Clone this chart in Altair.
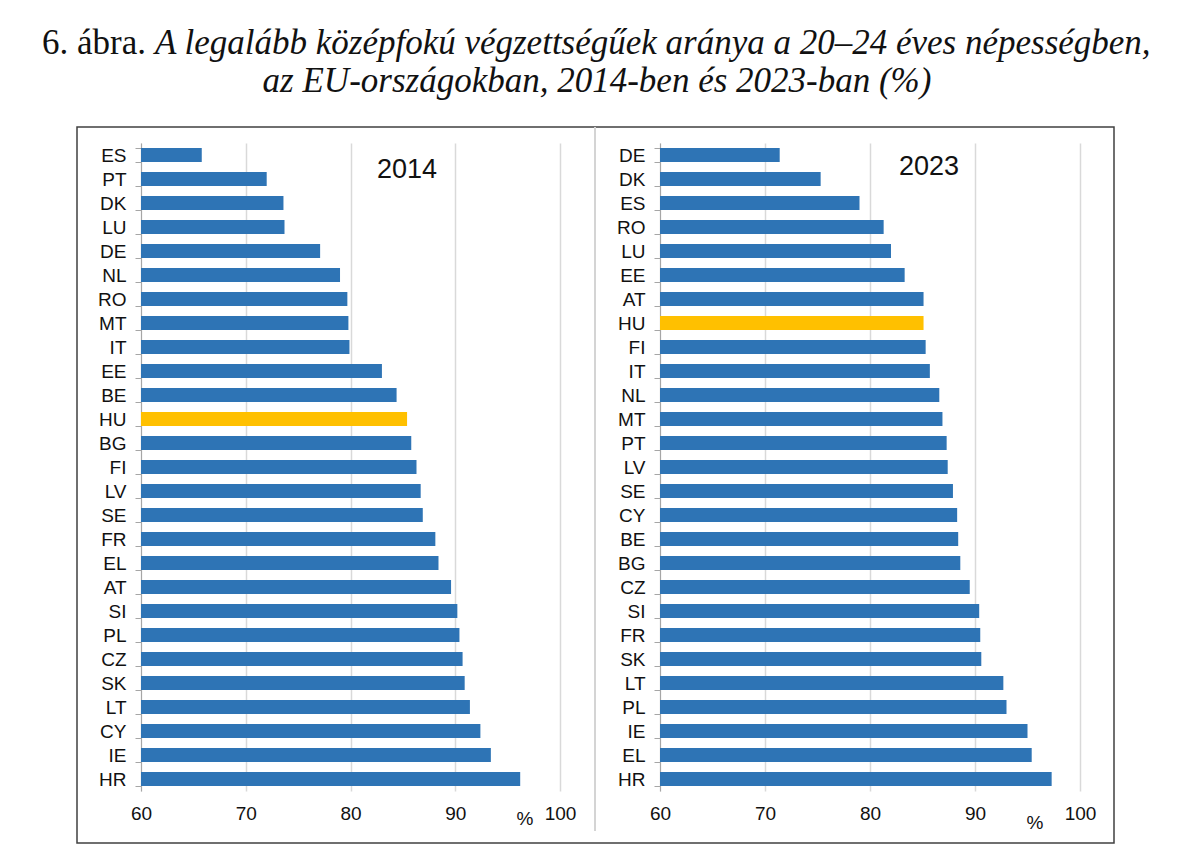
import altair as alt
import pandas as pd

countries_2014 = ["ES", "PT", "DK", "LU", "DE", "NL", "RO", "MT", "IT", "EE", "BE", "HU", "BG", "FI",
                  "LV", "SE", "FR", "EL", "AT", "SI", "PL", "CZ", "SK", "LT", "CY", "IE", "HR"]
values_2014 = [65.8, 72.0, 73.6, 73.7, 77.1, 79.0, 79.7, 79.8, 79.9, 83.0, 84.4, 85.4, 85.8, 86.3,
               86.7, 86.9, 88.1, 88.4, 89.6, 90.2, 90.4, 90.7, 90.9, 91.4, 92.4, 93.4, 96.2]

countries_2023 = ["DE", "DK", "ES", "RO", "LU", "EE", "AT", "HU", "FI", "IT", "NL", "MT", "PT", "LV",
                  "SE", "CY", "BE", "BG", "CZ", "SI", "FR", "SK", "LT", "PL", "IE", "EL", "HR"]
values_2023 = [71.4, 75.3, 79.0, 81.3, 82.0, 83.3, 85.1, 85.1, 85.3, 85.7, 86.6, 86.9, 87.3, 87.4,
               87.9, 88.3, 88.4, 88.6, 89.5, 90.4, 90.5, 90.6, 92.7, 93.0, 95.0, 95.4, 97.3]

x_ticks = [60, 70, 80, 90, 100]
highlight = "HU"

title_num = "6. ábra."
title_line1 = "A legalább középfokú végzettségűek aránya a 20–24 éves népességben,"
title_line2 = "az EU-országokban, 2014-ben és 2023-ban (%)"

BLUE = "#2e74b5"
GOLD = "#ffc000"
SANS = "Liberation Sans"
SERIF = "Liberation Serif"

one = pd.DataFrame({"k": [0]})


def panel_bars(countries, values):
    df = pd.DataFrame({"country": countries, "value": values})
    return alt.Chart(df).mark_bar().encode(
        y=alt.Y("country:N", sort=countries, title=None,
                scale=alt.Scale(paddingInner=0.42, paddingOuter=0.21),
                axis=alt.Axis(tickBand="extent", domainColor="#a6a6a6", tickColor="#a6a6a6",
                              tickSize=6, labelPadding=9, labelFont=SANS, labelFontSize=19,
                              labelColor="#111111", grid=False)),
        x=alt.X("value:Q", title=None,
                scale=alt.Scale(domain=[60, 100], zero=False, nice=False),
                axis=alt.Axis(values=x_ticks, ticks=False, domain=False, grid=True,
                              gridColor="#d9d9d9", gridWidth=1.5, labelPadding=13,
                              labelFlush=False, labelFont=SANS, labelFontSize=19,
                              labelColor="#111111")),
        x2=alt.datum(60),
        color=alt.condition(alt.datum.country == highlight, alt.value(GOLD), alt.value(BLUE)),
    )


def text_at(txt, x, y, size, font=SANS, style="normal", align="center", baseline="middle"):
    return alt.Chart(one).mark_text(
        font=font, fontSize=size, fontStyle=style, align=align, baseline=baseline, color="#111111"
    ).encode(x=alt.value(x), y=alt.value(y), text=alt.value(txt))


box = alt.Chart(one).mark_rect(fillOpacity=0, stroke="#404040", strokeWidth=1.5).encode(
    x=alt.value(-64), x2=alt.value(973), y=alt.value(-16), y2=alt.value(700))
divider = alt.Chart(one).mark_rule(color="#d4d4d4", strokeWidth=2).encode(
    x=alt.value(454), y=alt.value(-16), y2=alt.value(688))
extent = alt.Chart(one).mark_rect(opacity=0).encode(
    x=alt.value(-133), x2=alt.value(1051), y=alt.value(-135), y2=alt.value(710))

left = alt.layer(
    extent,
    panel_bars(countries_2014, values_2014),
    text_at("2014", 266, 27, 27),
    text_at("%", 384, 676, 19),
    box,
    divider,
    text_at(title_num, 5, -89, 35, font=SERIF, align="right", baseline="alphabetic"),
    text_at(title_line1, 14, -89, 35, font=SERIF, style="italic", align="left", baseline="alphabetic"),
    text_at(title_line2, 456, -51, 35, font=SERIF, style="italic", align="center", baseline="alphabetic"),
).properties(width=419, height=648)

right = alt.layer(
    panel_bars(countries_2023, values_2023),
    text_at("2023", 269, 24, 27),
    text_at("%", 375, 680, 19),
).properties(width=420, height=648)

chart = alt.hconcat(left, right, spacing=100, bounds="flush").properties(
    padding=0, background="white"
).configure_view(strokeWidth=0)

chart.save("out.html", embed_options={"renderer": "svg", "actions": False})
